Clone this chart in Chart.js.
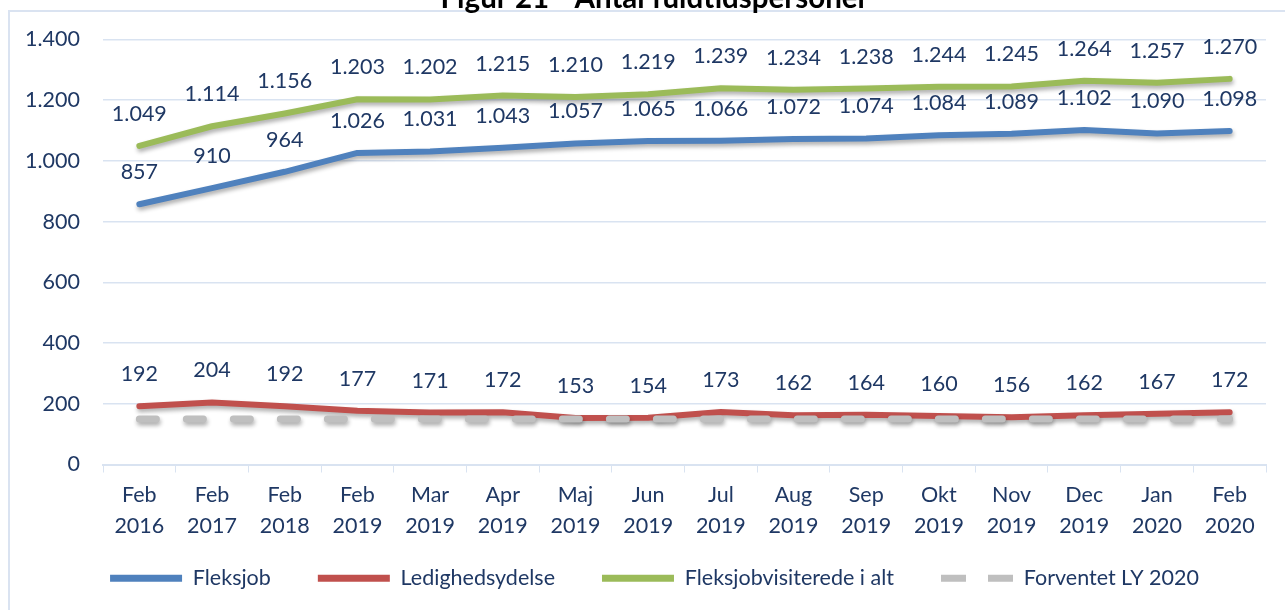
<!DOCTYPE html>
<html>
<head>
<meta charset="utf-8">
<script src="https://cdn.jsdelivr.net/npm/chart.js@4.4.1/dist/chart.umd.min.js"></script>
<style>
    html, body { margin: 0; padding: 0; background: #ffffff; overflow: hidden; }
    body { width: 1285px; height: 610px; position: relative; }
    #frame {
        position: absolute; left: 8px; top: 10px; width: 1290px; height: 610px;
        border-left: 2px solid #dae3f1; border-top: 2px solid #dae3f1;
    }
    #wrap { position: absolute; left: 0; top: -19px; width: 1285px; height: 629px; }
</style>
</head>
<body>
<div id="frame"></div>
<div id="wrap"><canvas id="fleksChart" width="1285" height="629"></canvas></div>
<script>
const labels = [
    ["Feb", "2016"], ["Feb", "2017"], ["Feb", "2018"], ["Feb", "2019"],
    ["Mar", "2019"], ["Apr", "2019"], ["Maj", "2019"], ["Jun", "2019"],
    ["Jul", "2019"], ["Aug", "2019"], ["Sep", "2019"], ["Okt", "2019"],
    ["Nov", "2019"], ["Dec", "2019"], ["Jan", "2020"], ["Feb", "2020"]
];

const fleksjob = [857, 910, 964, 1026, 1031, 1043, 1057, 1065, 1066, 1072, 1074, 1084, 1089, 1102, 1090, 1098];
const ledighedsydelse = [192, 204, 192, 177, 171, 172, 153, 154, 173, 162, 164, 160, 156, 162, 167, 172];
const visiteredeIAlt = [1049, 1114, 1156, 1203, 1202, 1215, 1210, 1219, 1239, 1234, 1238, 1244, 1245, 1264, 1257, 1270];
const forventetLY = [150, 150, 150, 150, 150, 150, 150, 150, 150, 150, 150, 150, 150, 150, 150, 150];

const textColor = "#1f3864";
const gridColor = "#d9e3f1";
const fontName = "Lato";
const fontSize = 21.5;

function fmt(v) {
    return String(v).replace(/\B(?=(\d{3})+(?!\d))/g, ".");
}

// shadow under the lines + value labels above the points
const lineExtras = {
    id: "lineExtras",
    beforeDatasetsDraw(chart) {
        const ctx = chart.ctx;
        ctx.save();
        ctx.shadowColor = "rgba(0,0,0,0.32)";
        ctx.shadowBlur = 4;
        ctx.shadowOffsetX = 1;
        ctx.shadowOffsetY = 3;
    },
    afterDatasetsDraw(chart) {
        const ctx = chart.ctx;
        ctx.restore();
        ctx.save();
        ctx.font = fontSize + "px " + fontName;
        ctx.fillStyle = textColor;
        ctx.textAlign = "center";
        ctx.textBaseline = "middle";
        chart.data.datasets.forEach(function (ds, i) {
            if (!ds.showValues) return;
            const meta = chart.getDatasetMeta(i);
            meta.data.forEach(function (pt, j) {
                ctx.fillText(fmt(ds.data[j]), pt.x, pt.y - 32);
            });
        });
        ctx.restore();
    }
};

new Chart(document.getElementById("fleksChart"), {
    type: "line",
    data: {
        labels: labels,
        datasets: [
            {
                label: "Fleksjob",
                data: fleksjob,
                borderColor: "#4f81bd",
                backgroundColor: "#4f81bd",
                borderWidth: 6,
                showValues: true
            },
            {
                label: "Ledighedsydelse",
                data: ledighedsydelse,
                borderColor: "#c0504d",
                backgroundColor: "#c0504d",
                borderWidth: 6,
                showValues: true
            },
            {
                label: "Fleksjobvisiterede i alt",
                data: visiteredeIAlt,
                borderColor: "#9bbb59",
                backgroundColor: "#9bbb59",
                borderWidth: 6,
                showValues: true
            },
            {
                label: "Forventet LY 2020",
                data: forventetLY,
                borderColor: "#bfbfbf",
                backgroundColor: "#bfbfbf",
                borderWidth: 7,
                borderDash: [17, 30],
                order: -1,
                showValues: false
            }
        ]
    },
    options: {
        responsive: false,
        animation: false,
        devicePixelRatio: 1,
        elements: {
            line: { tension: 0, borderCapStyle: "round", borderJoinStyle: "round" },
            point: { radius: 0, hoverRadius: 0 }
        },
        layout: {
            padding: { left: 24, right: 0, top: 0, bottom: 11 }
        },
        scales: {
            x: {
                offset: true,
                grid: {
                    offset: true,
                    drawOnChartArea: false,
                    drawTicks: true,
                    tickLength: 8,
                    color: gridColor
                },
                border: { color: gridColor, width: 2 },
                ticks: {
                    color: textColor,
                    padding: 8,
                    maxRotation: 0,
                    autoSkip: false,
                    font: { family: fontName, size: fontSize, lineHeight: 1.4 }
                },
                afterFit(scale) {
                    scale.height = 99;
                }
            },
            y: {
                min: 0,
                max: 1400,
                ticks: {
                    stepSize: 200,
                    color: textColor,
                    padding: 23,
                    font: { family: fontName, size: fontSize },
                    callback: function (v) { return fmt(v); }
                },
                grid: { color: gridColor, drawTicks: false, lineWidth: 1.5 },
                border: { display: false },
                afterFit(scale) {
                    scale.width = 79;
                }
            },
            // empty right-hand spacer so the legend centres like the original
            spacer: {
                position: "right",
                grid: { display: false },
                border: { display: false },
                ticks: { display: false },
                afterFit(scale) {
                    scale.width = 19;
                }
            }
        },
        plugins: {
            title: {
                display: true,
                text: "Figur 21 - Antal fuldtidspersoner",
                color: "#000000",
                font: { family: fontName, size: 29.5, weight: "bold" },
                padding: { top: 0, bottom: 23 }
            },
            legend: {
                position: "bottom",
                labels: {
                    usePointStyle: true,
                    pointStyle: "line",
                    pointStyleWidth: 72,
                    boxHeight: 20,
                    padding: 4,
                    color: textColor,
                    font: { family: fontName, size: fontSize },
                    sort: function (a, b) { return a.datasetIndex - b.datasetIndex; },
                    generateLabels: function (chart) {
                        const items = Chart.defaults.plugins.legend.labels.generateLabels(chart);
                        items.forEach(function (item) {
                            item.lineCap = "butt";
                            item.lineWidth = 7;
                            if (item.datasetIndex < 3) item.text = item.text + "\u2002\u2002\u2002\u2002";
                            if (item.datasetIndex === 3) item.lineDash = [25, 22];
                        });
                        return items;
                    }
                }
            },
            tooltip: { enabled: false }
        }
    },
    plugins: [lineExtras]
});
</script>
</body>
</html>
